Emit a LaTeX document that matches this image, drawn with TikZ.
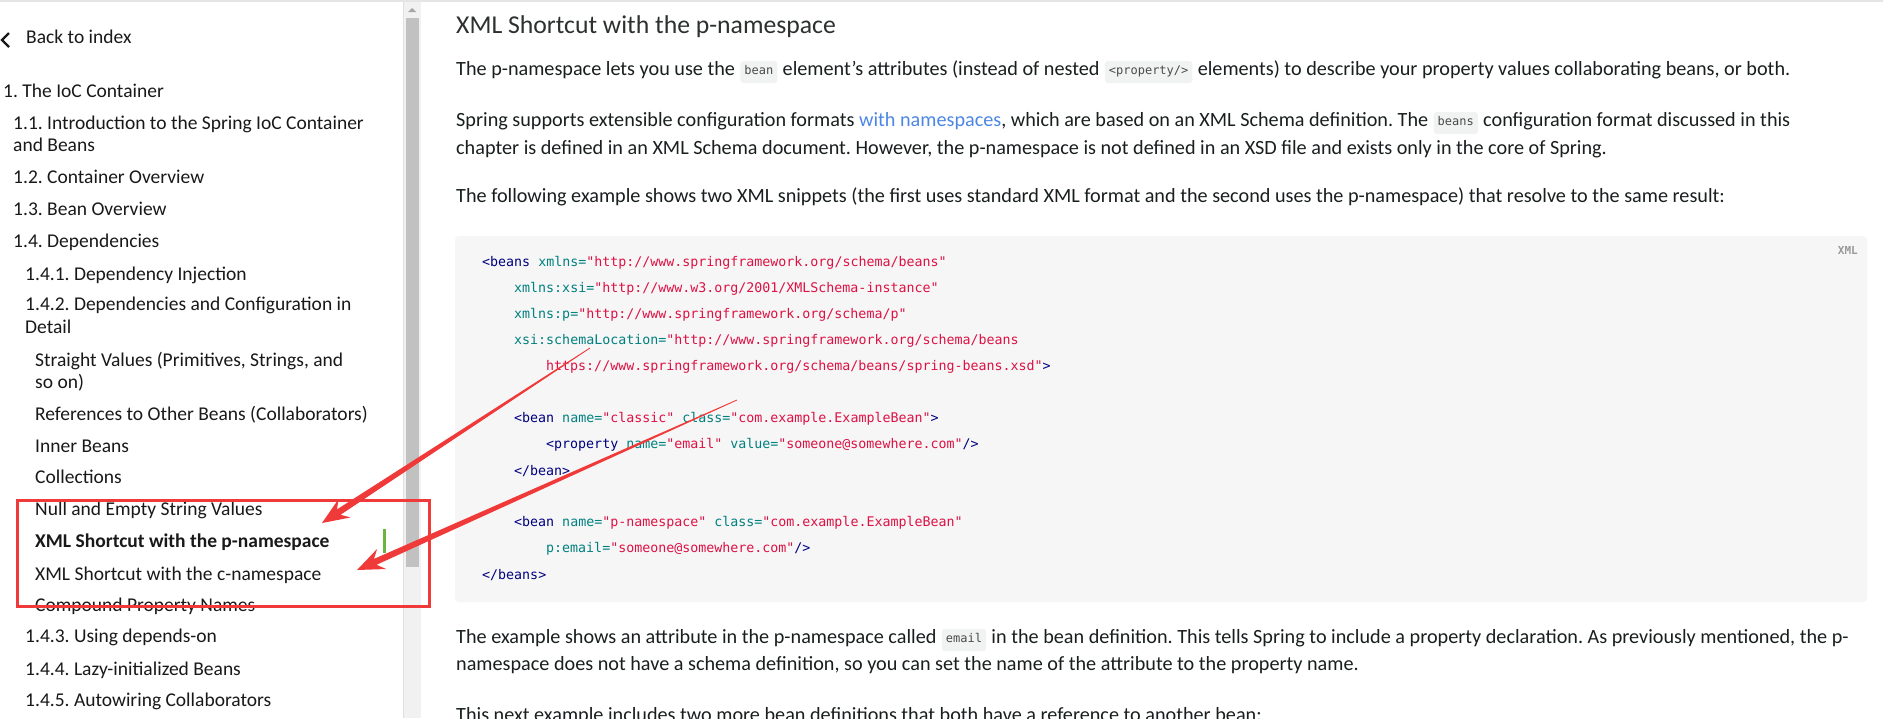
\documentclass[tikz,border=0pt]{standalone}
\usepackage{fontspec}
\setmainfont{Carlito}
\newfontfamily\codefont{DejaVu Sans Mono}
\usetikzlibrary{positioning,calc}
\definecolor{tocblack}{RGB}{25,25,25}
\definecolor{bodyblack}{RGB}{25,30,30}
\definecolor{headgray}{RGB}{45,48,48}
\definecolor{codebg}{RGB}{246,246,246}
\definecolor{chipbg}{RGB}{241,242,242}
\definecolor{chipgray}{RGB}{75,75,75}
\definecolor{linkblue}{RGB}{76,135,230}
\definecolor{markred}{RGB}{240,58,58}
\definecolor{sprgreen}{RGB}{109,179,63}
\definecolor{tracklight}{RGB}{241,241,241}
\definecolor{thumbgray}{RGB}{193,193,193}
\definecolor{tagnavy}{RGB}{0,0,128}
\definecolor{attteal}{RGB}{0,128,128}
\definecolor{strred}{RGB}{221,17,68}
\newcommand{\xtag}[1]{\textcolor{tagnavy}{#1}}
\newcommand{\xatt}[1]{\textcolor{attteal}{#1}}
\newcommand{\xstr}[1]{\textcolor{strred}{#1}}
\newcommand{\markarrow}[2]{%
  \coordinate (#2hb) at ($(#2)!20pt!(#1)$);
  \coordinate (#2nb) at ($(#2)!27pt!(#1)$);
  \fill[markred] ($(#1)!0.4pt!-90:(#2)$) -- ($(#2hb)!3.2pt!90:(#1)$) -- ($(#2nb)!11pt!90:(#1)$)
    -- (#2) -- ($(#2nb)!11pt!-90:(#1)$) -- ($(#2hb)!3.2pt!-90:(#1)$) -- ($(#1)!0.4pt!90:(#2)$) -- cycle;}
\tikzset{
  toc/.style={anchor=west,inner sep=0pt,text=tocblack,font=\fontsize{19.5}{19.5}\selectfont,text height=.6em,text depth=0pt},
  body/.style={inner sep=0pt,text=bodyblack,font=\fontsize{20.2}{20.2}\selectfont,text height=.6em,text depth=0pt},
  chip/.style={fill=chipbg,rounded corners=3pt,inner xsep=4pt,inner ysep=0pt,minimum height=22pt,text=chipgray,font=\codefont\fontsize{12}{12}\selectfont,text height=.75em,text depth=.2em},
  codeline/.style={anchor=west,inner sep=0pt,font=\codefont\fontsize{13.3}{13.3}\selectfont},
}
\begin{document}
\frenchspacing
\begin{tikzpicture}[x=1pt,y=-1pt]
\useasboundingbox (0,0) rectangle (1883,718);
\clip (0,0) rectangle (1883,718);
\fill[white] (0,0) rectangle (1883,718);
\fill[black!10] (0,0) rectangle (1883,2);
\fill[tracklight] (403,2) rectangle (421,718);
\draw[black!12] (403,2) -- (403,718);
\fill[thumbgray] (406,18) rectangle (419,567);
\fill[black!35] (408,12) -- (416,12) -- (412,8) -- cycle;
\draw[tocblack,line width=2.4pt] (9,33) -- (2,40) -- (9,47);
\node[toc] (back) at (26,40) {Back to index};
\node[toc] (t1) at (3,94) {1. The IoC Container};
\node[toc] (t11) at (13,126) {1.1. Introduction to the Spring IoC Container};
\node[toc] (t11b) at (13,148) {and Beans};
\node[toc] (t12) at (13,180) {1.2. Container Overview};
\node[toc] (t13) at (13,212) {1.3. Bean Overview};
\node[toc] (t14) at (13,244) {1.4. Dependencies};
\node[toc] (t141) at (25,277) {1.4.1. Dependency Injection};
\node[toc] (t142) at (25,307) {1.4.2. Dependencies and Configuration in};
\node[toc] (t142b) at (25,330) {Detail};
\node[toc] (sv) at (35,363) {Straight Values (Primitives, Strings, and};
\node[toc] (svb) at (35,385) {so on)};
\node[toc] (ref) at (35,417) {References to Other Beans (Collaborators)};
\node[toc] (inner) at (35,449) {Inner Beans};
\node[toc] (coll) at (35,480) {Collections};
\node[toc] (null) at (35,512) {Null and Empty String Values};
\node[toc,font=\fontsize{19.5}{19.5}\selectfont\bfseries] (pns) at (35,544) {XML Shortcut with the p-namespace};
\node[toc] (cns) at (35,577) {XML Shortcut with the c-namespace};
\node[toc] (comp) at (35,608) {Compound Property Names};
\node[toc] (t143) at (25,639) {1.4.3. Using depends-on};
\node[toc] (t144) at (25,672) {1.4.4. Lazy-initialized Beans};
\node[toc] (t145) at (25,703) {1.4.5. Autowiring Collaborators};
\fill[sprgreen] (383,529) rectangle (386,553);
\node[body,anchor=west,text=headgray,font=\fontsize{25.7}{25.7}\selectfont] (title) at (456,30) {XML Shortcut with the p-namespace};
\node[body,anchor=west] (p1a) at (456,72) {The p-namespace lets you use the};
\node[chip,right=5pt of p1a] (p1b) {bean};
\node[body,right=5pt of p1b] (p1c) {element’s attributes (instead of nested};
\node[chip,right=5pt of p1c] (p1d) {<property/>};
\node[body,right=5pt of p1d] (p1e) {elements) to describe your property values collaborating beans, or both.};
\node[body,anchor=west] (p2a) at (456,123) {Spring supports extensible configuration formats \textcolor{linkblue}{with namespaces}, which are based on an XML Schema definition. The};
\node[chip,right=5pt of p2a] (p2b) {beans};
\node[body,right=5pt of p2b] (p2c) {configuration format discussed in this};
\node[body,anchor=west] (p2d) at (456,151) {chapter is defined in an XML Schema document. However, the p-namespace is not defined in an XSD file and exists only in the core of Spring.};
\node[body,anchor=west] (p3) at (456,199) {The following example shows two XML snippets (the first uses standard XML format and the second uses the p-namespace) that resolve to the same result:};
\fill[codebg,rounded corners=4pt] (455,236) rectangle (1867,602);
\node[anchor=east,inner sep=0pt,text=black!40,font=\codefont\bfseries\fontsize{11}{11}\selectfont] (lang) at (1858,250) {XML};
\node[codeline] (c1) at (482,263) {\xtag{<beans} \xatt{xmlns=}\xstr{"http://www.springframework.org/schema/beans"}};
\node[codeline] (c2) at (514,289) {\xatt{xmlns:xsi=}\xstr{"http://www.w3.org/2001/XMLSchema-instance"}};
\node[codeline] (c3) at (514,315) {\xatt{xmlns:p=}\xstr{"http://www.springframework.org/schema/p"}};
\node[codeline] (c4) at (514,341) {\xatt{xsi:schemaLocation=}\xstr{"http://www.springframework.org/schema/beans}};
\node[codeline] (c5) at (546,367) {\xstr{https://www.springframework.org/schema/beans/spring-beans.xsd"}\xtag{>}};
\node[codeline] (c6) at (514,419) {\xtag{<bean} \xatt{name=}\xstr{"classic"} \xatt{class=}\xstr{"com.example.ExampleBean"}\xtag{>}};
\node[codeline] (c7) at (546,445) {\xtag{<property} \xatt{name=}\xstr{"email"} \xatt{value=}\xstr{"someone@somewhere.com"}\xtag{/>}};
\node[codeline] (c8) at (514,471) {\xtag{</bean>}};
\node[codeline] (c9) at (514,523) {\xtag{<bean} \xatt{name=}\xstr{"p-namespace"} \xatt{class=}\xstr{"com.example.ExampleBean"}};
\node[codeline] (c10) at (546,549) {\xatt{p:email=}\xstr{"someone@somewhere.com"}\xtag{/>}};
\node[codeline] (c11) at (482,575) {\xtag{</beans>}};
\node[body,anchor=west] (p4a) at (456,640) {The example shows an attribute in the p-namespace called};
\node[chip,right=5pt of p4a] (p4b) {email};
\node[body,right=5pt of p4b] (p4c) {in the bean definition. This tells Spring to include a property declaration. As previously mentioned, the p-};
\node[body,anchor=west] (p4d) at (456,667) {namespace does not have a schema definition, so you can set the name of the attribute to the property name.};
\node[body,anchor=west] (p5) at (456,718) {This next example includes two more bean definitions that both have a reference to another bean:};
\draw[markred,line width=3pt] (17,500) rectangle (429,606);
\coordinate (from1) at (590,348);
\coordinate (to1) at (322,523);
\coordinate (from2) at (737,400);
\coordinate (to2) at (357,570);
\markarrow{from1}{to1}
\markarrow{from2}{to2}
\end{tikzpicture}
\end{document}
